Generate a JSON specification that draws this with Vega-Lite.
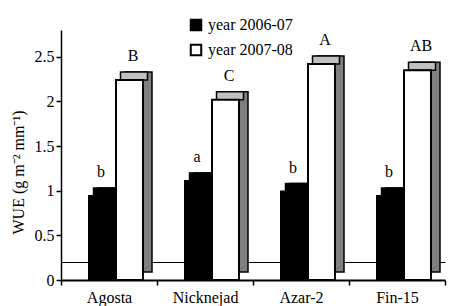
{
  "$schema": "https://vega.github.io/schema/vega-lite/v6.json",
  "width": 384,
  "height": 250,
  "autosize": {"type": "none"},
  "padding": {"left": 61, "top": 30, "right": 16, "bottom": 26},
  "background": "white",
  "config": {
    "view": {"stroke": null},
    "font": "Liberation Serif",
    "axis": {
      "domainColor": "black",
      "tickColor": "black",
      "labelColor": "black",
      "titleColor": "black",
      "labelFont": "Liberation Serif",
      "titleFont": "Liberation Serif",
      "labelFontSize": 16,
      "titleFontSize": 16,
      "titleFontWeight": "normal",
      "grid": false,
      "domainWidth": 1.5,
      "tickWidth": 1.5,
      "tickSize": 5
    }
  },
  "data": {
    "values": [
      {"cultivar": "Agosta", "year": "year 2006-07", "wue": 0.94, "sig": "b"},
      {"cultivar": "Agosta", "year": "year 2007-08", "wue": 2.24, "sig": "B"},
      {"cultivar": "Nicknejad", "year": "year 2006-07", "wue": 1.11, "sig": "a"},
      {"cultivar": "Nicknejad", "year": "year 2007-08", "wue": 2.02, "sig": "C"},
      {"cultivar": "Azar-2", "year": "year 2006-07", "wue": 0.99, "sig": "b"},
      {"cultivar": "Azar-2", "year": "year 2007-08", "wue": 2.42, "sig": "A"},
      {"cultivar": "Fin-15", "year": "year 2006-07", "wue": 0.94, "sig": "b"},
      {"cultivar": "Fin-15", "year": "year 2007-08", "wue": 2.35, "sig": "AB"}
    ]
  },
  "encoding": {
    "x": {
      "field": "cultivar",
      "type": "nominal",
      "sort": ["Agosta", "Nicknejad", "Azar-2", "Fin-15"],
      "scale": {"paddingInner": 0, "paddingOuter": 0},
      "axis": {"title": null, "labelAngle": 0, "tickBand": "extent", "labelPadding": 4, "domainWidth": 2}
    },
    "y": {
      "field": "wue",
      "type": "quantitative",
      "scale": {"domain": [0, 2.8], "nice": false},
      "axis": {
        "title": "WUE (g m\u207b\u00b2 mm\u207b\u00b9)",
        "values": [0, 0.2, 0.5, 1, 1.5, 2, 2.5],
        "format": "~g",
        "labelExpr": "datum.value == 0.2 ? '' : datum.label",
        "tickOpacity": {"condition": {"test": "datum.value == 0.2", "value": 0}, "value": 1},
        "grid": true,
        "gridColor": "black",
        "gridWidth": 1.2,
        "gridOpacity": {"condition": {"test": "datum.value == 0.2", "value": 1}, "value": 0},
        "labelPadding": 2,
        "titlePadding": 8,
        "titleY": 142
      }
    }
  },
  "resolve": {"scale": {"xOffset": "independent"}},
  "layer": [
    {
      "transform": [{"filter": "datum.year == 'year 2006-07'"}],
      "mark": {"type": "bar", "fill": "black", "stroke": "black", "strokeWidth": 1.5, "yOffset": -8, "y2Offset": -8},
      "encoding": {
        "xOffset": {"field": "year", "type": "nominal", "scale": {"domain": ["year 2006-07", "year 2007-08"], "paddingInner": 0, "paddingOuter": 0.778, "align": 0.881}}
      }
    },
    {
      "transform": [{"filter": "datum.year == 'year 2006-07'"}],
      "mark": {"type": "bar", "fill": "black", "stroke": "black", "strokeWidth": 1.5, "yOffset": -8, "y2Offset": 0},
      "encoding": {
        "xOffset": {"field": "year", "type": "nominal", "scale": {"domain": ["year 2006-07", "year 2007-08"], "paddingInner": 0, "paddingOuter": 0.778, "align": 0.774}},
        "y2": {"field": "wue"}
      }
    },
    {
      "transform": [{"filter": "datum.year == 'year 2007-08'"}],
      "mark": {"type": "bar", "fill": "#808080", "stroke": "black", "strokeWidth": 1.5, "yOffset": -8, "y2Offset": -8},
      "encoding": {
        "xOffset": {"field": "year", "type": "nominal", "scale": {"domain": ["year 2006-07", "year 2007-08"], "paddingInner": 0, "paddingOuter": 0.778, "align": 0.881}}
      }
    },
    {
      "transform": [{"filter": "datum.year == 'year 2007-08'"}],
      "mark": {"type": "bar", "fill": "#c0c0c0", "stroke": "black", "strokeWidth": 1.5, "yOffset": -8, "y2Offset": 0},
      "encoding": {
        "xOffset": {"field": "year", "type": "nominal", "scale": {"domain": ["year 2006-07", "year 2007-08"], "paddingInner": 0, "paddingOuter": 0.778, "align": 0.774}},
        "y2": {"field": "wue"}
      }
    },
    {
      "mark": {"type": "bar", "stroke": "black", "strokeWidth": 2},
      "encoding": {
        "xOffset": {"field": "year", "type": "nominal", "scale": {"domain": ["year 2006-07", "year 2007-08"], "paddingInner": 0, "paddingOuter": 0.778, "align": 0.667}},
        "color": {
          "field": "year",
          "type": "nominal",
          "scale": {"domain": ["year 2006-07", "year 2007-08"], "range": ["black", "white"]},
          "legend": {
            "title": null,
            "orient": "none",
            "legendX": 127,
            "legendY": -13,
            "symbolType": "square",
            "symbolSize": 110,
            "symbolStrokeColor": "black",
            "symbolStrokeWidth": 2,
            "labelFont": "Liberation Serif",
            "labelFontSize": 16,
            "labelColor": "black",
            "labelOffset": 4,
            "rowPadding": 5
          }
        }
      }
    },
    {
      "mark": {"type": "text", "font": "Liberation Serif", "fontSize": 16, "fill": "black", "baseline": "middle", "dy": -24},
      "encoding": {
        "xOffset": {"field": "year", "type": "nominal", "scale": {"domain": ["year 2006-07", "year 2007-08"], "padding": 1, "align": 0.625}},
        "text": {"field": "sig"}
      }
    }
  ]
}
